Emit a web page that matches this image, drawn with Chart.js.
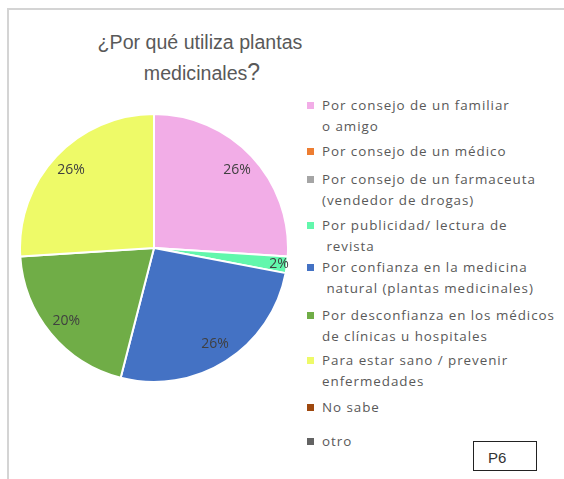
<!DOCTYPE html>
<html>
<head>
<meta charset="utf-8">
<script src="https://cdn.jsdelivr.net/npm/chart.js@4/dist/chart.umd.min.js"></script>
<style>
  html, body { margin:0; padding:0; background:#fff; }
  body { width:564px; height:479px; position:relative; overflow:hidden; font-family:"Liberation Sans", Arial, sans-serif; }
  #frame { position:absolute; left:7px; top:8px; width:600px; height:600px; border-left:2px solid #d4d4d4; border-top:2px solid #d4d4d4; }
  .title { position:absolute; color:#595959; font-size:19.6px; white-space:nowrap; transform:translate(-50%,-50%); }
  #pieWrap { position:absolute; left:19px; top:113px; width:270px; height:270px; }
  #legend { position:absolute; left:0; top:0; }
  .li { position:absolute; left:307px; color:#595959; font-family:"Open Sans", sans-serif; font-size:13.4px; letter-spacing:0.95px; line-height:21px; white-space:pre; }
  .li .box { position:absolute; left:0; top:7px; width:7px; height:7px; }
  .li .txt { position:absolute; left:15px; top:0; }
  #p6 { position:absolute; left:473px; top:441px; width:64px; height:30px; border:1px solid #222; box-sizing:border-box; font-size:15px; color:#333; }
  #p6 span { position:absolute; left:14px; top:7px; }
</style>
</head>
<body>
<div id="frame"></div>
<div class="title" style="left:200px; top:42px;">¿Por qué utiliza plantas</div>
<div class="title" style="left:202px; top:72px;">medicinales<span style="font-size:23px;">?</span></div>
<div id="pieWrap"><canvas id="c" width="270" height="270"></canvas></div>
<div id="legend"></div>
<div id="p6"><span>P6</span></div>
<script>
const categories = [
  "Por consejo de un familiar\no amigo",
  "Por consejo de un médico",
  "Por consejo de un farmaceuta\n(vendedor de drogas)",
  "Por publicidad/ lectura de\n revista",
  "Por confianza en la medicina\n natural (plantas medicinales)",
  "Por desconfianza en los médicos\nde clínicas u hospitales",
  "Para estar sano / prevenir\nenfermedades",
  "No sabe",
  "otro"
];
const percentages = [26, 0, 0, 2, 26, 20, 26, 0, 0];
const colors = ["#F2ADE7", "#ED7D31", "#A5A5A5", "#62F7AC", "#4472C4", "#70AD47", "#EEFA68", "#9E480E", "#636363"];
const legendTops = [95, 141, 169, 215, 257, 305, 350, 397, 431];

const labelPlugin = {
  id: 'pctLabels',
  afterDatasetsDraw(chart) {
    const ctx = chart.ctx;
    const meta = chart.getDatasetMeta(0);
    ctx.save();
    ctx.font = '14px "Open Sans", sans-serif';
    ctx.fillStyle = '#404040';
    ctx.textAlign = 'center';
    ctx.textBaseline = 'middle';
    meta.data.forEach((arc, i) => {
      const v = percentages[i];
      if (!v) return;
      const p = arc.getProps(['x','y','startAngle','endAngle','outerRadius'], true);
      const mid = (p.startAngle + p.endAngle) / 2;
      const f = v < 5 ? 0.94 : 0.85;
      const r = p.outerRadius * f;
      ctx.fillText(v + '%', p.x + Math.cos(mid) * r, p.y + Math.sin(mid) * r);
    });
    ctx.restore();
  }
};

new Chart(document.getElementById('c'), {
  type: 'pie',
  data: {
    labels: categories,
    datasets: [{ data: percentages, backgroundColor: colors, borderColor: '#ffffff', borderWidth: 2 }]
  },
  options: {
    responsive: false,
    animation: false,
    layout: { padding: 0 },
    plugins: { legend: { display: false }, tooltip: { enabled: false }, title: { display: false } }
  },
  plugins: [labelPlugin]
});

const leg = document.getElementById('legend');
categories.forEach((c, i) => {
  const d = document.createElement('div');
  d.className = 'li';
  d.style.top = legendTops[i] + 'px';
  const b = document.createElement('div');
  b.className = 'box';
  b.style.background = colors[i];
  const t = document.createElement('div');
  t.className = 'txt';
  t.textContent = c;
  d.appendChild(b); d.appendChild(t);
  leg.appendChild(d);
});
</script>
</body>
</html>
